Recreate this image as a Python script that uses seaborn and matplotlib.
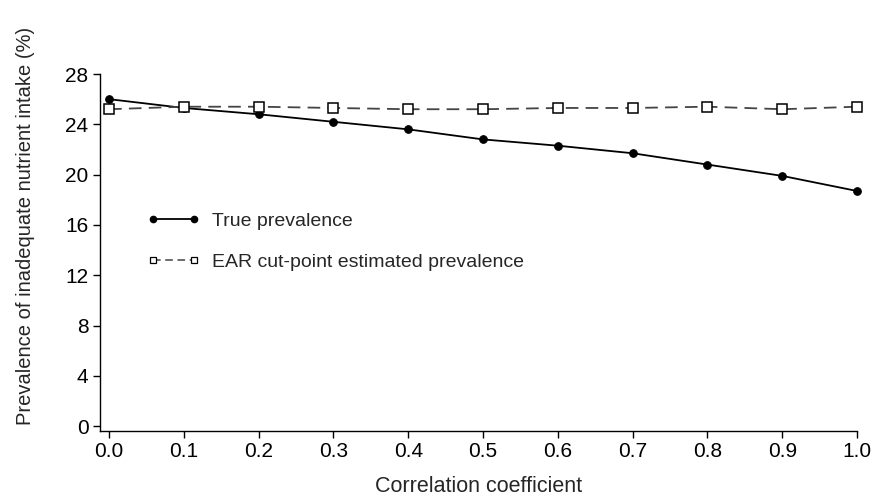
import numpy as np
import pandas as pd
import seaborn as sns
import matplotlib.pyplot as plt
from matplotlib.lines import Line2D

correlation = [0.0, 0.1, 0.2, 0.3, 0.4, 0.5, 0.6, 0.7, 0.8, 0.9, 1.0]
true_prevalence = [26.0, 25.3, 24.8, 24.2, 23.6, 22.8, 22.3, 21.7, 20.8, 19.9, 18.7]
ear_prevalence = [25.2, 25.4, 25.4, 25.3, 25.2, 25.2, 25.3, 25.3, 25.4, 25.2, 25.4]
y_ticks = [0, 4, 8, 12, 16, 20, 24, 28]
series_labels = ["True prevalence", "EAR cut-point estimated prevalence"]

df = pd.DataFrame({
    "corr": correlation,
    "true": true_prevalence,
    "ear": ear_prevalence,
})

sns.set_theme(style="ticks")
plt.rcParams["font.family"] = ["Liberation Sans", "DejaVu Sans"]

fig = plt.figure(figsize=(8.73, 4.98), dpi=100)
ax = fig.add_axes([0.1142, 0.1353, 0.9817 - 0.1142, 0.8514 - 0.1353])

sns.lineplot(
    data=df, x="corr", y="true", ax=ax, color="black", linewidth=1.3,
    marker="o", markersize=5.5, markeredgecolor="black", markerfacecolor="black",
    clip_on=False, zorder=3,
)
sns.lineplot(
    data=df, x="corr", y="ear", ax=ax, color="#444444", linewidth=1.3,
    marker="s", markersize=7.5, markeredgecolor="black",
    markerfacecolor="white", markeredgewidth=1.1, clip_on=False, zorder=3,
)
ax.lines[1].set_dashes([7, 4])

ax.set_xlim(-0.0125, 1.0)
ax.set_ylim(-0.35, 28)
ax.set_xticks(correlation)
ax.set_xticklabels([f"{v:.1f}" for v in correlation])
ax.set_yticks(y_ticks)
ax.tick_params(axis="both", labelsize=15, length=5, width=1, colors="black", pad=3)
for s in ["top", "right"]:
    ax.spines[s].set_visible(False)
for s in ["left", "bottom"]:
    ax.spines[s].set_color("black")
    ax.spines[s].set_linewidth(1)

ax.set_xlabel("Correlation coefficient", fontsize=15.5)
ax.xaxis.set_label_coords(0.5, -0.126)
ax.set_ylabel("Prevalence of inadequate nutrient intake (%)", fontsize=14.5)
ax.yaxis.set_label_coords(-0.085, 0.574)

handles = [
    Line2D([], [], color="black", linewidth=1.3, marker="o", markersize=4.5,
           markerfacecolor="black", markeredgecolor="black"),
    Line2D([], [], color="#444444", linewidth=1.1, linestyle=(0, (5, 3)), marker="s",
           markersize=5, markerfacecolor="white", markeredgecolor="black",
           markeredgewidth=0.9),
]
fig.legend(
    handles, series_labels, loc="upper left", bbox_to_anchor=(0.1684, 0.573),
    frameon=False, fontsize=14, handlelength=2.7, handletextpad=0.65,
    labelspacing=1.2, borderpad=0, borderaxespad=0, numpoints=2,
)

fig.savefig("out.png", dpi=100)
